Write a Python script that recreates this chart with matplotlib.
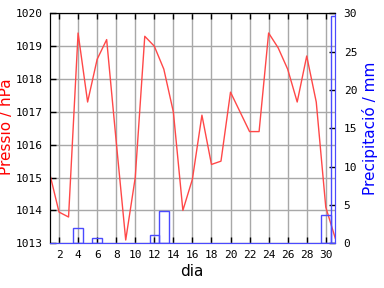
import matplotlib
matplotlib.use("Agg")
import matplotlib.pyplot as plt
import numpy as np

days = list(range(1, 32))
pressure = [1015.15, 1013.95, 1013.8, 1019.4, 1017.3, 1018.6, 1019.2, 1016.1,
            1013.1, 1015.0, 1019.3, 1019.0, 1018.3, 1017.0, 1014.0, 1014.95,
            1016.9, 1015.4, 1015.5, 1017.6, 1017.0, 1016.4, 1016.4, 1019.4,
            1018.95, 1018.3, 1017.3, 1018.7, 1017.3, 1014.1, 1013.15]
precip_days = [4, 6, 12, 13, 30, 31]
precip = [2.0, 0.65, 1.05, 4.2, 3.65, 29.65]

x_ticks = list(range(2, 31, 2))
p_ticks = list(range(1013, 1021))
r_ticks = list(range(0, 31, 5))

W, H = 384, 288
fig = plt.figure(figsize=(W / 100, H / 100), dpi=100)
ax = fig.add_axes([49.5 / W, 1 - 243.3 / H, (335.3 - 49.5) / W, (243.3 - 13.3) / H])
ax2 = ax.twinx()

ax.plot(days, pressure, color="#ff4848", lw=1.0, zorder=3)
ax.set_xlim(1, 31)
ax.set_ylim(1013, 1020)
ax.set_xticks(x_ticks)
ax.set_yticks(p_ticks)
ax.grid(True, color="#a8a8a8", lw=1.0)
ax.set_axisbelow(True)
ax.tick_params(direction="in", length=4, width=1, top=True, color="black", pad=5)
for lbl in ax.get_xticklabels() + ax.get_yticklabels():
    lbl.set_fontfamily("DejaVu Sans Mono")
    lbl.set_fontsize(8)

ax2.bar(precip_days, precip, width=1.0, fill=False, edgecolor="#4a4aff", lw=1.0, zorder=2)
ax2.set_ylim(0, 30)
ax2.set_yticks(r_ticks)
ax2.tick_params(direction="in", length=4, width=1, color="black", pad=6)
for lbl in ax2.get_yticklabels():
    lbl.set_fontfamily("DejaVu Sans Mono")
    lbl.set_fontsize(8)

for a in (ax, ax2):
    a.spines["bottom"].set_color("#4a4aff")
    a.spines["right"].set_color("#4a4aff")
    a.spines["left"].set_color("black")
    a.spines["top"].set_color("black")

fig.text(7 / W, 1 - 127 / H, "Pressió / hPa", color="#ff0000", rotation=90,
         ha="center", va="center", fontsize=11)
fig.text(370 / W, 1 - 128 / H, "Precipitació / mm", color="#0000ff", rotation=90,
         ha="center", va="center", fontsize=11)
fig.text(191.5 / W, 1 - 272 / H, "dia", color="black", ha="center", va="center", fontsize=11)

fig.savefig("out.png", dpi=100)
